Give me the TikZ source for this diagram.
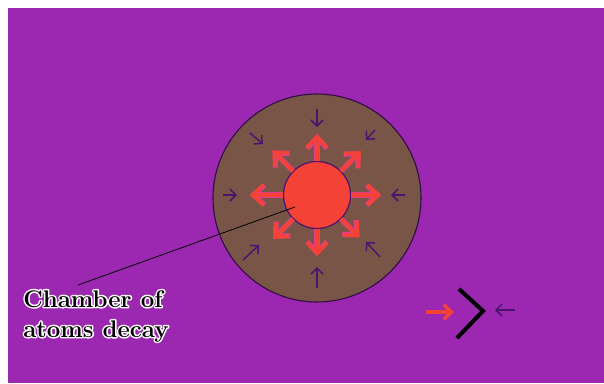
\documentclass[tikz,border=0pt]{standalone}
\usetikzlibrary{arrows.meta,calc}
\definecolor{bgpurple}{RGB}{156,39,176}
\definecolor{chamber}{RGB}{121,85,72}
\definecolor{core}{RGB}{244,67,54}
\definecolor{inarrow}{RGB}{74,20,110}
\definecolor{glow}{RGB}{230,60,140}
\newcommand{\halotext}[1]{\special{pdf:code q 2 Tr 2.2 w 1 J 1 j 1 1 1 RG}#1\special{pdf:code Q}}
\tikzset{
  outarrow/.style={draw=core, line width=2.8pt, -{Straight Barb[length=8pt,width=15pt,line width=2.8pt]}},
  outglow/.style={draw=glow, line width=3.8pt, -{Straight Barb[length=8pt,width=15pt,line width=3.8pt]}},
  inward/.style={draw=inarrow, line width=1.1pt, -{Straight Barb[length=4.5pt,width=9pt,line width=1.1pt]}},
  lbl/.style={anchor=base west, inner sep=0pt, font=\fontsize{18}{22.5}\selectfont\bfseries, align=left}
}
\begin{document}
\begin{tikzpicture}[x=0.75pt,y=-0.75pt]
\useasboundingbox (0,0) rectangle (604,383);
\fill[white] (0,0) rectangle (604,383);
\fill[bgpurple] (8,8) rectangle (604,383);
% chamber
\node[circle, minimum size=208*0.75pt, inner sep=0pt, fill=chamber, draw=inarrow!60!black, line width=0.8pt] (ch) at (317,198) {};
% inward arrows
\coordinate (n1) at (317,109); \coordinate (n2) at (317,127);
\coordinate (e1) at (405,195); \coordinate (e2) at (391,195);
\coordinate (w1) at (223,195); \coordinate (w2) at (237,195);
\coordinate (s1) at (317,288); \coordinate (s2) at (317,267);
\coordinate (ne1) at (375,130); \coordinate (ne2) at (366,140);
\coordinate (nw1) at (250,133); \coordinate (nw2) at (263,144);
\coordinate (sw1) at (243,260); \coordinate (sw2) at (259,245);
\coordinate (se1) at (380,257); \coordinate (se2) at (366,242);
\foreach \a in {n,e,w,s,ne,nw,sw,se} \draw[inward] (\a1) -- (\a2);
% core
\node[circle, minimum size=67*0.75pt, inner sep=0pt, fill=core, draw=inarrow, line width=0.9pt] (core) at (317,195) {};
% outward arrows
\foreach \ang/\len in {0/64, 45/62, 90/61, 135/63, 180/67, 225/62, 270/61, 315/60} {
  \draw[outglow] (core.\ang) -- ($(core.center)+(\ang:\len*0.75pt)$);
}
\foreach \ang/\len in {0/64, 45/62, 90/61, 135/63, 180/67, 225/62, 270/61, 315/60} {
  \draw[outarrow] (core.\ang) -- ($(core.center)+(\ang:\len*0.75pt)$);
}
% leader
\coordinate (lp) at (295,207);
\coordinate (lq) at (78,285);
\draw[black, line width=0.6pt] (lp) -- (lq);
% label with halo
\node[lbl, text=white] (halo) at (23,337) {\halotext{Chamber of}\\\halotext{atoms decay}};
\node[lbl, text=black] (label) at (23,337) {Chamber of\\atoms decay};
% bottom-right legend
\coordinate (ra) at (426,312); \coordinate (rb) at (454,312);
\draw[draw=core, line width=2.4pt, -{Straight Barb[length=6pt,width=11pt,line width=2.4pt]}] (ra) -- (rb);
\coordinate (c1) at (459,289); \coordinate (c2) at (483,311); \coordinate (c3) at (457,338);
\draw[black, line width=3pt] (c1) -- (c2) -- (c3);
\coordinate (pa) at (515,310); \coordinate (pb) at (495,310);
\draw[inward] (pa) -- (pb);
\end{tikzpicture}
\end{document}
